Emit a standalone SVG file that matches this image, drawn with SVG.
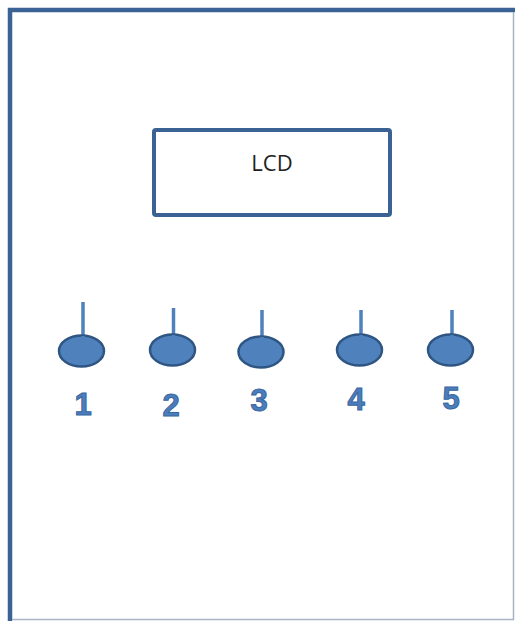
<svg xmlns="http://www.w3.org/2000/svg" width="515" height="621" viewBox="0 0 515 621">
<style>
.frame{fill:none;stroke:#3b6294;stroke-width:4.5}
.edge{fill:none;stroke:#a9b4c2;stroke-width:1.5}
.lcd{fill:#fff;stroke:#3b6294;stroke-width:4}
.lcdtxt{font-family:"Open Sans","Liberation Sans",sans-serif;font-size:22px;fill:#222;text-anchor:middle}
.knob{fill:#4f81bd;stroke:#2f5583;stroke-width:2.5}
.stem{stroke:#4f81bd;stroke-width:3.5}
.num{font-family:"Liberation Sans",Arial,sans-serif;font-weight:bold;font-size:31px;fill:#4a7dbb;stroke:#3a669e;stroke-width:1;text-anchor:middle}
</style>
<rect width="515" height="621" fill="#fff"/>
<g id="frame">
<path class="frame" d="M10,621 V10 H515"/>
<path class="edge" d="M513.5,12 V619.5 H12"/>
</g>
<g id="lcd">
<rect class="lcd" x="154" y="130" width="236" height="85" rx="2"/>
<text class="lcdtxt" x="272" y="171">LCD</text>
</g>
<g id="connectors">
<line class="stem" x1="83" y1="302" x2="83" y2="345"/>
<line class="stem" x1="173.5" y1="308" x2="173.5" y2="345"/>
<line class="stem" x1="262" y1="310" x2="262" y2="346"/>
<line class="stem" x1="361" y1="310" x2="361" y2="345"/>
<line class="stem" x1="452" y1="310" x2="452" y2="345"/>
</g>
<g id="button1">
<ellipse class="knob" cx="81.5" cy="351" rx="22.5" ry="15.5"/>
<line class="stem" x1="83" y1="336" x2="83" y2="348"/>
<text class="num" x="83" y="415">1</text>
</g>
<g id="button2">
<ellipse class="knob" cx="172.5" cy="350" rx="22.5" ry="15.5"/>
<line class="stem" x1="173.5" y1="335" x2="173.5" y2="347"/>
<text class="num" x="171" y="416">2</text>
</g>
<g id="button3">
<ellipse class="knob" cx="261" cy="352" rx="22.5" ry="15.5"/>
<line class="stem" x1="262" y1="337" x2="262" y2="349"/>
<text class="num" x="259" y="411">3</text>
</g>
<g id="button4">
<ellipse class="knob" cx="359.5" cy="350" rx="22.5" ry="15.5"/>
<line class="stem" x1="361" y1="335" x2="361" y2="347"/>
<text class="num" x="356" y="410">4</text>
</g>
<g id="button5">
<ellipse class="knob" cx="450.5" cy="350" rx="22.5" ry="15.5"/>
<line class="stem" x1="452" y1="335" x2="452" y2="347"/>
<text class="num" x="451" y="409">5</text>
</g>
</svg>
